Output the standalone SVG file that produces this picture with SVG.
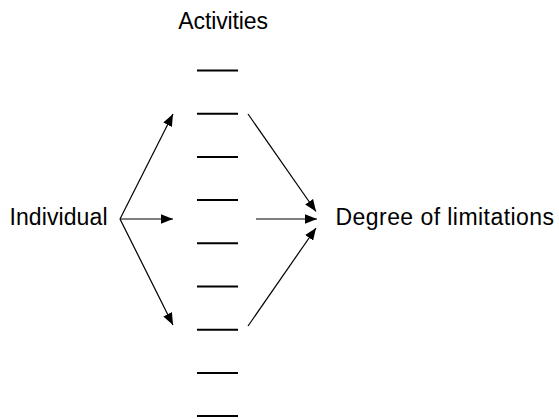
<svg xmlns="http://www.w3.org/2000/svg" width="559" height="419" viewBox="0 0 559 419">
<style>
text{font-family:"Liberation Sans",Arial,sans-serif;font-size:23px;fill:#000}
.dash{stroke:#000;stroke-width:2}
.arr{stroke:#000;stroke-width:1.2;fill:none;marker-end:url(#ah)}
</style>
<defs>
<marker id="ah" markerUnits="userSpaceOnUse" markerWidth="12" markerHeight="10" refX="10" refY="4" orient="auto" viewBox="0 0 10 8">
<path d="M0,0 L10,4 L0,8 z" fill="#000"/>
</marker>
</defs>
<rect width="559" height="419" fill="#fff"/>
<g id="activities">
<text x="178.3" y="28.5" textLength="89.7" lengthAdjust="spacing">Activities</text>
<line class="dash" x1="197" y1="70.5" x2="238" y2="70.5"/>
<line class="dash" x1="197" y1="113.7" x2="238" y2="113.7"/>
<line class="dash" x1="197" y1="156.9" x2="238" y2="156.9"/>
<line class="dash" x1="197" y1="200.1" x2="238" y2="200.1"/>
<line class="dash" x1="197" y1="243.3" x2="238" y2="243.3"/>
<line class="dash" x1="197" y1="286.5" x2="238" y2="286.5"/>
<line class="dash" x1="197" y1="329.7" x2="238" y2="329.7"/>
<line class="dash" x1="197" y1="372.9" x2="238" y2="372.9"/>
<line class="dash" x1="197" y1="416.1" x2="238" y2="416.1"/>
</g>
<g id="individual">
<text x="9.5" y="225" textLength="98" lengthAdjust="spacing">Individual</text>
</g>
<g id="degree">
<text x="335.5" y="225" textLength="218.5" lengthAdjust="spacing">Degree of limitations</text>
</g>
<g id="connectors">
<line class="arr" x1="120" y1="219" x2="173" y2="114"/>
<line class="arr" x1="120" y1="219" x2="173" y2="219"/>
<line class="arr" x1="120" y1="219" x2="173" y2="325"/>
<line class="arr" x1="248" y1="114" x2="316" y2="211.5"/>
<line class="arr" x1="256" y1="219" x2="317" y2="219"/>
<line class="arr" x1="248" y1="326" x2="316" y2="228"/>
</g>
</svg>
